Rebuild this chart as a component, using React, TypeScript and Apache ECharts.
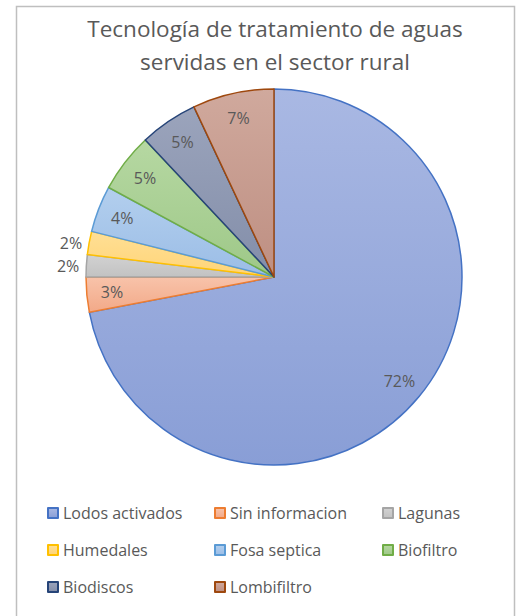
import React, { useEffect, useRef } from "react";
import * as echarts from "echarts";

const titleText = "Tecnología de tratamiento de aguas\nservidas en el sector rural";
const categories = [
  "Lodos activados",
  "Sin informacion",
  "Lagunas",
  "Humedales",
  "Fosa septica",
  "Biofiltro",
  "Biodiscos",
  "Lombifiltro",
];
const values = [72, 3, 1.9, 2, 4, 5.1, 5, 7];
const legendColumns = [
  ["Lodos activados", "Humedales", "Biodiscos"],
  ["Sin informacion", "Fosa septica", "Lombifiltro"],
  ["Lagunas", "Biofiltro"],
];
const outsideLabels = ["Lagunas", "Humedales"];

const fillTop = ["#a9b8e3", "#f8c3aa", "#d2d2d2", "#ffdf95", "#b3cfee", "#b6d8a2", "#9ba4bc", "#d0a99d"];
const fillBottom = ["#899ed6", "#f2a988", "#c2c2c2", "#ffd477", "#9bbde6", "#9ec888", "#838ea9", "#be8f82"];
const borders = ["#4472c4", "#ed7d31", "#a5a5a5", "#ffc000", "#5b9bd5", "#70ad47", "#264478", "#9e480e"];

const FONT = "'Open Sans', 'Noto Sans', sans-serif";
const TXT = "#595959";

export default function App() {
  const ref = useRef<HTMLDivElement>(null);
  useEffect(() => {
    document.body.style.margin = "0";
    const chart = echarts.init(ref.current!, null, { renderer: "svg" });
    const R = 188;
    const mainData = categories.map((name, i) => ({
      name,
      value: values[i],
      itemStyle: {
        color: new echarts.graphic.LinearGradient(0, 0, 0, 1, [
          { offset: 0, color: fillTop[i] },
          { offset: 1, color: fillBottom[i] },
        ]),
        borderColor: borders[i],
        borderWidth: 1.5,
      },
    }));
    const labelData = categories.map((name, i) => {
      const outside = outsideLabels.indexOf(name) >= 0;
      return {
        name,
        value: values[i],
        label: outside ? { position: "outside" } : { position: "inside" },
        labelLine: { show: false, length: 1, length2: 1 },
      };
    });
    chart.setOption({
      animation: false,
      backgroundColor: "#ffffff",
      title: {
        text: titleText,
        left: 270,
        top: 7,
        textAlign: "center",
        textStyle: {
          fontFamily: FONT,
          fontSize: 22.5,
          fontWeight: "normal",
          color: TXT,
          lineHeight: 33,
        },
      },
      graphic: [
        {
          type: "rect",
          shape: { x: 16.5, y: 6.5, width: 498, height: 640 },
          style: { fill: "none", stroke: "#bfbfbf", lineWidth: 1.5 },
          silent: true,
        },
      ],
      legend: legendColumns.map((col, ci) => ({
        data: col,
        orient: "vertical",
        left: [47, 214, 382][ci],
        top: 503,
        padding: 0,
        itemWidth: 10,
        itemHeight: 10,
        itemGap: 17,
        selectedMode: false,
        icon: "rect",
        textStyle: { fontFamily: FONT, fontSize: 16, color: TXT, lineHeight: 20 },
      })),
      series: [
        {
          type: "pie",
          name: "main",
          center: [274, 277],
          radius: [0, R],
          startAngle: 90,
          clockwise: true,
          silent: true,
          label: { show: false },
          labelLine: { show: false },
          emphasis: { disabled: true },
          data: mainData,
        },
        {
          type: "pie",
          name: "labels",
          center: [274, 277],
          radius: [R * 0.7, R],
          startAngle: 90,
          clockwise: true,
          silent: true,
          avoidLabelOverlap: false,
          itemStyle: { color: "rgba(0,0,0,0)", borderWidth: 0 },
          label: {
            show: true,
            formatter: (p: any) => Math.round(p.value) + "%",
            fontFamily: FONT,
            fontSize: 16,
            color: TXT,
          },
          emphasis: { disabled: true },
          data: labelData,
        },
      ],
    });
    return () => chart.dispose();
  }, []);
  return (
    <div
      ref={ref}
      style={{ position: "absolute", left: 0, top: 0, width: 516, height: 616 }}
    />
  );
}
